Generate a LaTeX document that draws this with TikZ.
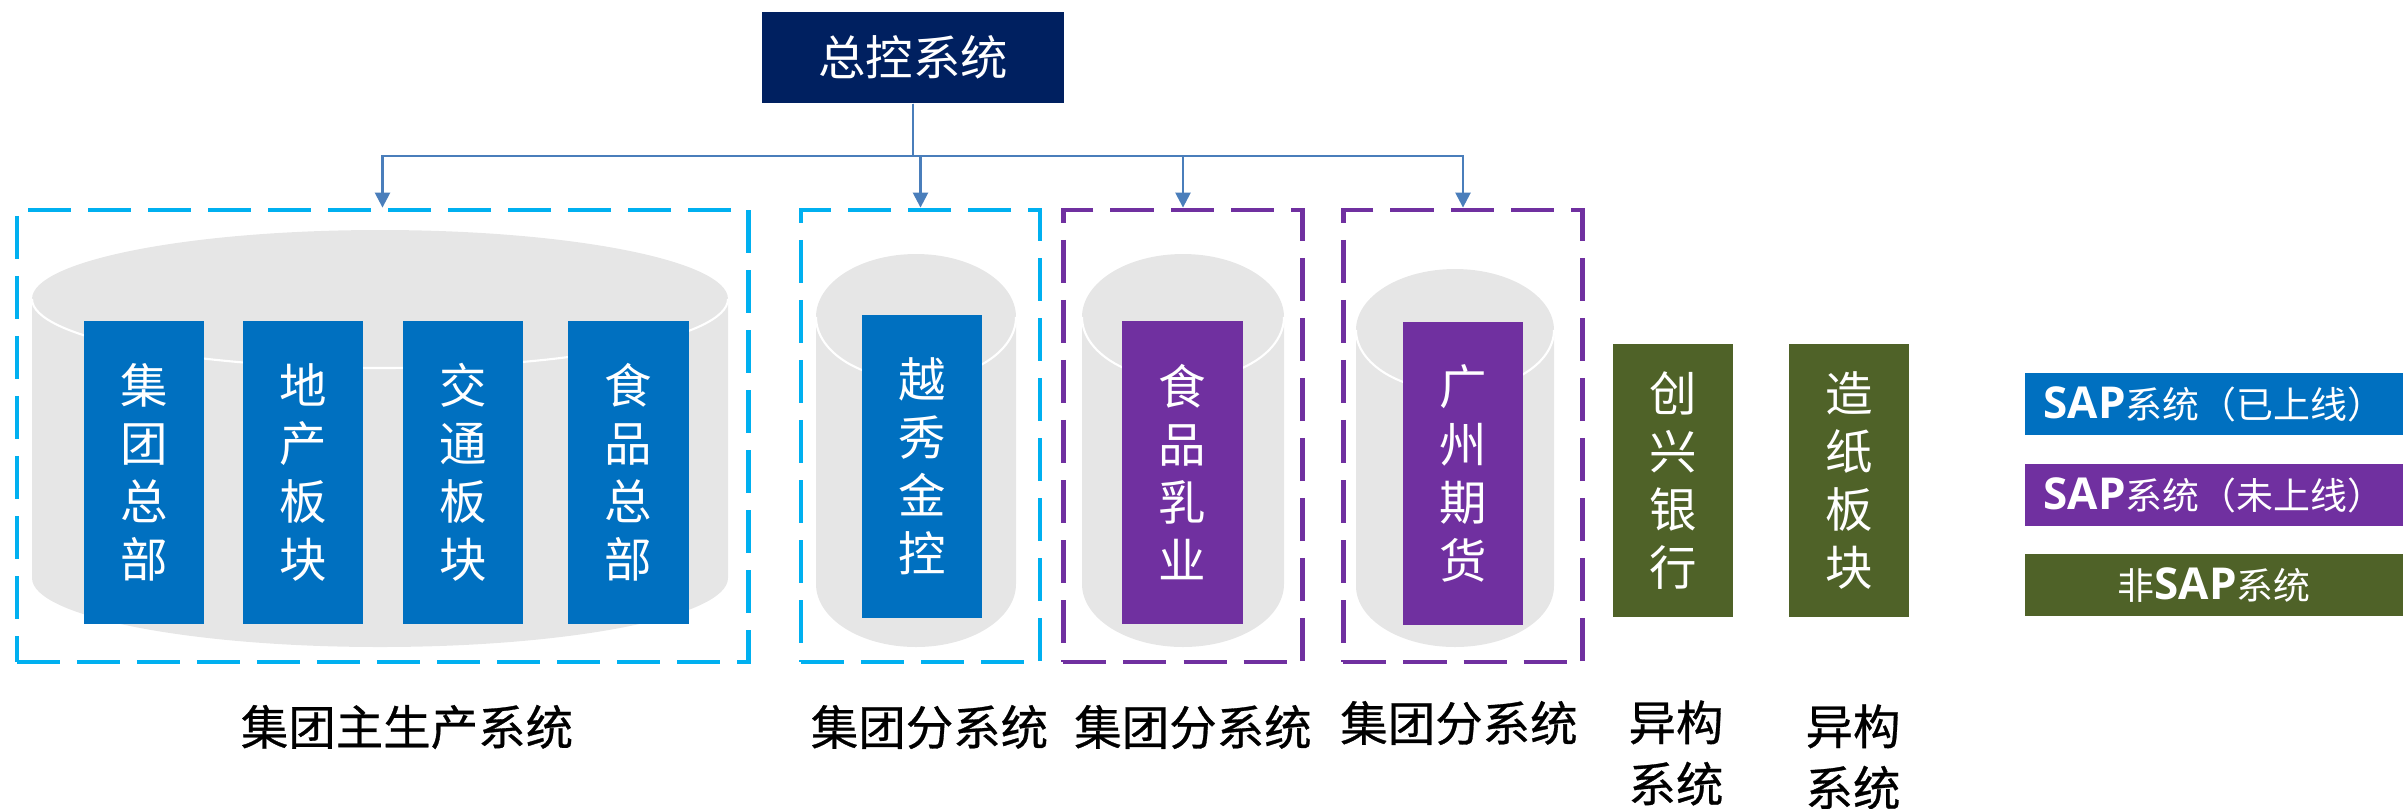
\documentclass[tikz,border=0pt]{standalone}
\usepackage{fontspec}
\newfontfamily\cjk{Noto Sans CJK SC}
\newfontfamily\cjkheavy{Noto Sans CJK SC}[FakeBold=0.6]
\setsansfont{Open Sans}
\usepackage{tikz}
\usetikzlibrary{arrows.meta}
\usetikzlibrary{positioning}

\definecolor{ctlnavy}{HTML}{002060}
\definecolor{sapblue}{HTML}{0070C0}
\definecolor{sappurple}{HTML}{7030A0}
\definecolor{nonsapgreen}{HTML}{4F6228}
\definecolor{grpcyan}{HTML}{00B0F0}
\definecolor{feedblue}{HTML}{4A7EBB}
\definecolor{drumgray}{HTML}{E6E6E6}

\tikzstyle{unit} = [rectangle, minimum width=1.2cm, inner sep=0pt, align=center, text=white, font=\cjk\fontsize{13.5}{16.5}\selectfont]
\tikzstyle{sapon} = [unit, fill=sapblue, minimum height=3.03cm]
\tikzstyle{sapoff} = [unit, fill=sappurple, minimum height=3.03cm]
\tikzstyle{nonsap} = [unit, fill=nonsapgreen, minimum height=2.73cm]
\tikzstyle{grpbox} = [rectangle, line width=1.3pt, dash pattern=on 0.43cm off 0.17cm, minimum height=4.52cm, inner sep=0pt]
\tikzstyle{keybox} = [rectangle, minimum width=3.78cm, minimum height=0.61cm, inner sep=0pt, text=white, font=\cjk\fontsize{10.5}{12}\selectfont]
\tikzstyle{syslabel} = [align=center, inner sep=0pt, font=\cjkheavy\fontsize{13.5}{17.5}\selectfont]
\tikzstyle{feed} = [draw=feedblue, line width=0.7pt, -{Triangle[length=0.15cm,width=0.15cm]}]

% cylinder: centre x, top y, bottom y, x radius, y radius (all in px)
\newcommand{\drum}[5]{%
  \fill[drumgray] ({#1-#4},#2) -- ({#1-#4},#3)
    arc[start angle=180, end angle=360, x radius=#4*0.01cm, y radius=#5*0.01cm]
    -- ({#1+#4},#2) -- cycle;
  \fill[drumgray] (#1,#2) ellipse[x radius=#4*0.01cm, y radius=#5*0.01cm];
  \draw[white, line width=0.6pt] ({#1-#4},#2)
    arc[start angle=180, end angle=360, x radius=#4*0.01cm, y radius=#5*0.01cm];
}
\newcommand{\sap}{{\sffamily\bfseries\fontsize{12.5}{14}\selectfont SAP}}

\begin{document}
\begin{tikzpicture}[x=0.01cm, y=-0.01cm]
\useasboundingbox (0,0) rectangle (2405,808);

% cylinders
\drum{380}{299}{578}{348}{69}
\drum{916}{317}{584}{100}{63}
\drum{1183}{317}{584}{101}{63}
\drum{1455}{330}{586}{99}{61}

% control system
\node (ctl) [rectangle, fill=ctlnavy, minimum width=3.02cm, minimum height=0.91cm, text=white, font=\cjk\fontsize{13.5}{16}\selectfont] at (913,57.5) {总控系统};

% group frames
\node (grpmain) [grpbox, draw=grpcyan, minimum width=7.31cm] at (382.5,436) {};
\node (grpyx) [grpbox, draw=grpcyan, minimum width=2.39cm] at (920.5,436) {};
\node (grpfood) [grpbox, draw=sappurple, minimum width=2.39cm] at (1183,436) {};
\node (grpgz) [grpbox, draw=sappurple, minimum width=2.39cm] at (1463,436) {};

% units
\node (jtzb) [sapon] at (144,472.5) {集\\团\\总\\部};
\node (dcbk) [sapon] at (303,472.5) {地\\产\\板\\块};
\node (jtbk) [sapon] at (463,472.5) {交\\通\\板\\块};
\node (sps) [sapon] at (628.5,472.5) {食\\品\\总\\部};
\node (yxjk) [sapon] at (922,466.5) {越\\秀\\金\\控};
\node (sprq) [sapoff] at (1182.5,472.5) {食\\品\\乳\\业};
\node (gzqh) [sapoff] at (1463,473.5) {广\\州\\期\\货};
\node (cxyh) [nonsap] at (1673,480.5) {创\\兴\\银\\行};
\node (zzbk) [nonsap] at (1849,480.5) {造\\纸\\板\\块};

% connectors
\coordinate (bus) at (913,156);
\draw[feed] (ctl.south) -- (bus) -| (grpmain.north);
\draw[feed] (ctl.south) -- (bus) -| (grpyx.north);
\draw[feed] (ctl.south) -- (bus) -| (grpfood.north);
\draw[feed] (ctl.south) -- (bus) -| (grpgz.north);

% labels
\node (lbmain) [syslabel] at (407,727) {集团主生产系统};
\node (lbyx) [syslabel] at (929.5,727) {集团分系统};
\node (lbfood) [syslabel] at (1193,727) {集团分系统};
\node (lbgz) [syslabel] at (1459,723) {集团分系统};
\node (lbcx) [syslabel] at (1676,753) {异构\\系统};
\node (lbzz) [syslabel] at (1853,757) {异构\\系统};

% legend
\node (keyon) [keybox, fill=sapblue] at (2214,404) {\sap 系统（已上线）};
\node (keyoff) [keybox, fill=sappurple] at (2214,495) {\sap 系统（未上线）};
\node (keynon) [keybox, fill=nonsapgreen] at (2214,585) {非\sap 系统};
\end{tikzpicture}
\end{document}
